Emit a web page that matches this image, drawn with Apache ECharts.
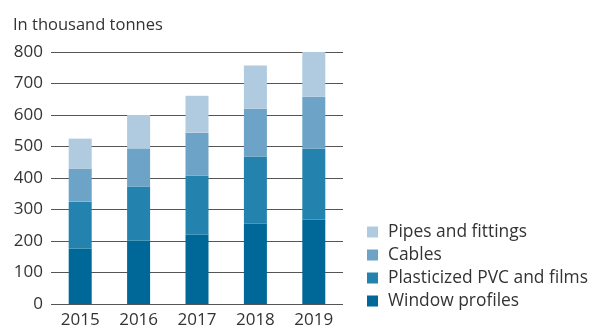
<!DOCTYPE html>
<html>
<head>
<meta charset="utf-8">
<script src="https://cdn.jsdelivr.net/npm/echarts@6/dist/echarts.min.js"></script>
<style>
  html, body { margin: 0; padding: 0; background: #fff; }
  #chart { width: 593px; height: 329px; }
</style>
</head>
<body>
<div id="chart"></div>
<script>
// PVC consumption by application, thousand tonnes
const years = ['2015', '2016', '2017', '2018', '2019'];
const windowProfiles = [176, 201, 220, 255, 268];
const plasticizedPVC = [149, 172, 187, 213, 225];
const cables = [105, 121, 137, 152, 165];
const pipesFittings = [95, 106, 117, 137, 142];
const yTicks = [0, 100, 200, 300, 400, 500, 600, 700, 800];

const font = '"Open Sans", "Noto Sans", sans-serif';
const textColor = '#333';

const chart = echarts.init(document.getElementById('chart'), null, { renderer: 'canvas' });

function bar(name, data, color) {
  return {
    name: name,
    type: 'bar',
    stack: 'total',
    data: data,
    barWidth: 23,
    itemStyle: { color: color },
    emphasis: { disabled: true }
  };
}

chart.setOption({
  animation: false,
  backgroundColor: '#fff',
  title: {
    text: 'In thousand tonnes',
    left: 8,
    top: 12,
    textStyle: { fontFamily: font, fontSize: 16.5, fontWeight: 'normal', color: textColor }
  },
  grid: { left: 51, right: 250, top: 52, bottom: 25 },
  legend: {
    orient: 'vertical',
    left: 362,
    top: 218.5,
    itemWidth: 11,
    itemHeight: 11,
    itemGap: 6,
    icon: 'rect',
    data: ['Pipes and fittings', 'Cables', 'Plasticized PVC and films', 'Window profiles'],
    textStyle: { fontFamily: font, fontSize: 17.4, color: textColor, lineHeight: 17, padding: [0, 0, 0, 5] }
  },
  xAxis: {
    type: 'category',
    data: years,
    axisLine: { show: false },
    axisTick: { show: false },
    axisLabel: { fontFamily: font, fontSize: 17, color: textColor, margin: 8 }
  },
  yAxis: {
    type: 'value',
    min: yTicks[0],
    max: yTicks[yTicks.length - 1],
    interval: 100,
    axisLine: { show: false },
    axisTick: { show: false },
    axisLabel: { fontFamily: font, fontSize: 17, color: textColor, margin: 8 },
    splitLine: { lineStyle: { color: '#555', width: 1 } }
  },
  series: [
    bar('Window profiles', windowProfiles, '#006898'),
    bar('Plasticized PVC and films', plasticizedPVC, '#2483ae'),
    bar('Cables', cables, '#6ca3c6'),
    bar('Pipes and fittings', pipesFittings, '#b0cadf')
  ]
});
</script>
</body>
</html>
